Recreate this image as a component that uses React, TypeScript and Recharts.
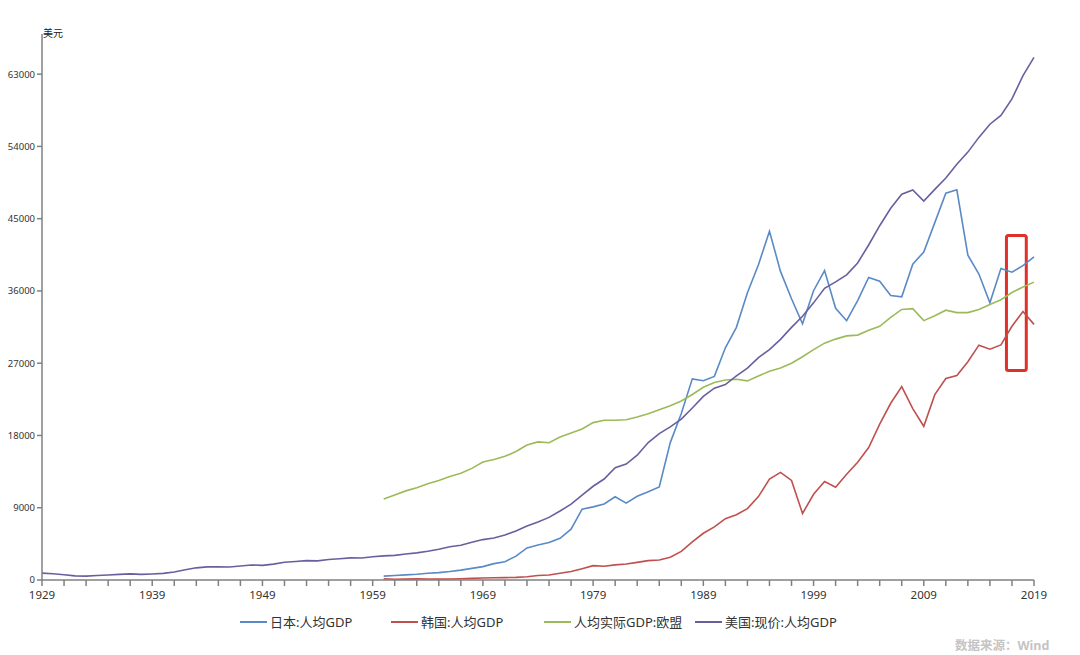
import { LineChart, Line, XAxis, YAxis, ReferenceArea } from "recharts"

// 美国:现价:人均GDP, 1929-2019
const usGdp = [
  857, 772, 649, 512, 488, 558, 615, 701, 761, 703,
  755, 822, 1005, 1268, 1515, 1637, 1658, 1614, 1734, 1870,
  1826, 1975, 2216, 2309, 2412, 2387, 2560, 2652, 2753, 2735,
  2901, 3007, 3067, 3244, 3377, 3573, 3828, 4146, 4336, 4696,
  5032, 5234, 5609, 6094, 6726, 7226, 7801, 8592, 9453, 10565,
  11674, 12575, 13976, 14434, 15544, 17121, 18237, 19071, 20039, 21417,
  22857, 23889, 24342, 25419, 26387, 27695, 28691, 29968, 31459, 32854,
  34515, 36330, 37134, 37998, 39490, 41725, 44123, 46302, 48050, 48570,
  47195, 48651, 50066, 51784, 53291, 55124, 56763, 57867, 59915, 62805,
  65095,
]

// 日本:人均GDP, 1960-2019
const japanGdp = [
  479, 563, 633, 717, 836, 919, 1058, 1229, 1450, 1669,
  2037, 2272, 2967, 3997, 4354, 4659, 5198, 6335, 8821, 9105,
  9463, 10361, 9578, 10425, 10984, 11585, 17112, 20745, 25052, 24813,
  25359, 28925, 31465, 35766, 39269, 43440, 38437, 35022, 31903, 36027,
  38532, 33846, 32289, 34808, 37689, 37218, 35434, 35275, 39339, 40855,
  44508, 48168, 48603, 40454, 38109, 34524, 38794, 38332, 39159, 40247,
]

// 韩国:人均GDP, 1960-2019
const koreaGdp = [
  158, 94, 106, 146, 124, 109, 133, 161, 198, 243,
  279, 301, 324, 407, 563, 616, 834, 1056, 1406, 1784,
  1715, 1883, 1992, 2199, 2413, 2482, 2835, 3555, 4749, 5818,
  6610, 7637, 8127, 8885, 10385, 12565, 13403, 12398, 8282, 10672,
  12257, 11561, 13165, 14673, 16496, 19403, 22011, 24086, 21346, 19144,
  23087, 25096, 25467, 27182, 29250, 28737, 29274, 31601, 33447, 31838,
]

// 人均实际GDP:欧盟, 1960-2019
const euGdp = [
  10100, 10600, 11100, 11500, 12000, 12400, 12900, 13300, 13900, 14700,
  15000, 15400, 16000, 16800, 17200, 17100, 17800, 18300, 18800, 19600,
  19900, 19900, 19950, 20300, 20700, 21200, 21700, 22300, 23100, 24000,
  24600, 24900, 25000, 24800, 25400, 26000, 26400, 27000, 27800, 28700,
  29500, 30000, 30400, 30500, 31100, 31600, 32700, 33700, 33800, 32300,
  32900, 33600, 33300, 33300, 33700, 34300, 34900, 35800, 36500, 37100,
]

const firstYear = 1929
const otherStart = 1960

const xTicks = [
  1929, 1931, 1933, 1935, 1937, 1939, 1941, 1943, 1945, 1947,
  1949, 1951, 1953, 1955, 1957, 1959, 1961, 1963, 1965, 1967,
  1969, 1971, 1973, 1975, 1977, 1979, 1981, 1983, 1985, 1987,
  1989, 1991, 1993, 1995, 1997, 1999, 2001, 2003, 2005, 2007,
  2009, 2011, 2013, 2015, 2017, 2019,
]
const xLabels = [1929, 1939, 1949, 1959, 1969, 1979, 1989, 1999, 2009, 2019]
const yTicks = [0, 9000, 18000, 27000, 36000, 45000, 54000, 63000]

// highlighted box around 2017-2018
const box = { x1: 2016.5, x2: 2018.3, y1: 26100, y2: 42900 }

const data = usGdp.map((us, i) => {
  const year = firstYear + i
  const j = year - otherStart
  return {
    year,
    us,
    japan: j >= 0 ? japanGdp[j] : null,
    korea: j >= 0 ? koreaGdp[j] : null,
    eu: j >= 0 ? euGdp[j] : null,
  }
})

const COLORS = {
  japan: "#5a8ac6",
  korea: "#c0504d",
  eu: "#9bbb59",
  us: "#6a5f9e",
}

const series = [
  { key: "japan", name: "日本:人均GDP", x: 240 },
  { key: "korea", name: "韩国:人均GDP", x: 391 },
  { key: "eu", name: "人均实际GDP:欧盟", x: 544 },
  { key: "us", name: "美国:现价:人均GDP", x: 695 },
]

const FONT = "'Noto Sans', 'Noto Sans CJK SC', sans-serif"
const AXIS = "#808080"

export default function App() {
  return (
    <div style={{ position: "absolute", left: 0, top: 0, width: 1080, height: 655, background: "#fff", fontFamily: FONT }}>
      <LineChart width={1080} height={655} data={data} margin={{ top: 34, right: 46, bottom: 50, left: 0 }}>
        <XAxis
          dataKey="year"
          type="number"
          domain={[1929, 2019]}
          ticks={xTicks}
          interval={0}
          tickFormatter={(v) => (xLabels.includes(v) ? String(v) : "")}
          tickSize={6}
          tickMargin={5}
          height={25}
          stroke={AXIS}
          strokeWidth={1.5}
          tick={{ fill: "#333", fontSize: 11.5, fontFamily: FONT }}
        />
        <YAxis
          type="number"
          domain={[0, 68000]}
          ticks={yTicks}
          interval={0}
          width={42}
          tickSize={5}
          stroke={AXIS}
          strokeWidth={1.5}
          tick={{ fill: "#333", fontSize: 9.5, fontFamily: FONT }}
        />
        {series.map((s) => (
          <Line
            key={s.key}
            dataKey={s.key}
            name={s.name}
            type="linear"
            stroke={COLORS[s.key as keyof typeof COLORS]}
            strokeWidth={1.6}
            dot={false}
            connectNulls={false}
            isAnimationActive={false}
          />
        ))}
        <ReferenceArea
          x1={box.x1}
          x2={box.x2}
          y1={box.y1}
          y2={box.y2}
          fill="none"
          fillOpacity={0}
          stroke="#e0302a"
          strokeWidth={3}
          radius={2}
          ifOverflow="visible"
        />
      </LineChart>

      <div style={{ position: "absolute", left: 43, top: 25, fontSize: 10, color: "#222" }}>美元</div>

      {series.map((s) => (
        <div key={s.key} style={{ position: "absolute", left: s.x, top: 612, display: "flex", alignItems: "center", fontSize: 13, color: "#333", whiteSpace: "nowrap" }}>
          <span style={{ display: "inline-block", width: 27, height: 2, background: COLORS[s.key as keyof typeof COLORS], marginRight: 3 }} />
          <span>{s.name}</span>
        </div>
      ))}

      <div style={{ position: "absolute", left: 955, top: 635, fontSize: 12.5, fontWeight: 700, color: "#c4c4c4", whiteSpace: "nowrap" }}>数据来源：Wind</div>
    </div>
  )
}
